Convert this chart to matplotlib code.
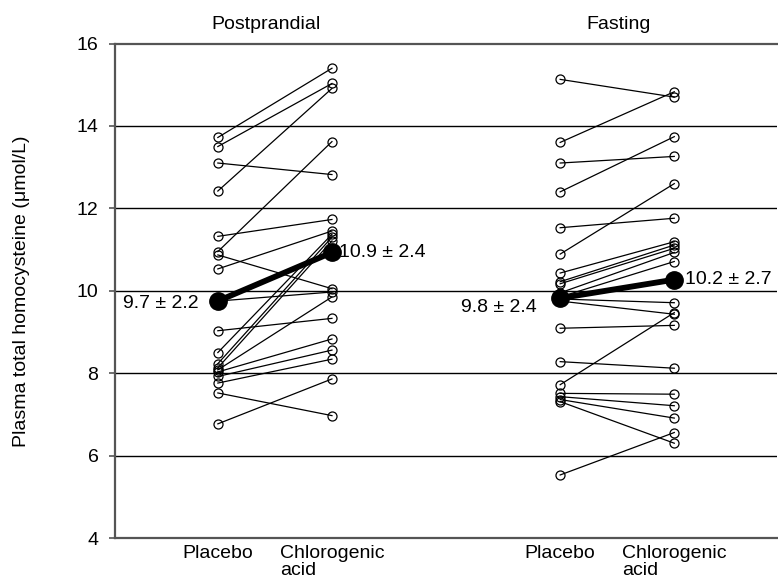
import matplotlib
matplotlib.use("Agg")
import matplotlib.pyplot as plt

plt.rcParams['font.family'] = ['Liberation Sans', 'DejaVu Sans']

# ---- data ----
x_positions = [1, 2, 4, 5]
x_labels = ["Placebo", "Chlorogenic\nacid", "Placebo", "Chlorogenic\nacid"]
group_names = ["Postprandial", "Fasting"]

pp_placebo = [13.72, 13.50, 12.42, 10.95, 13.10, 11.32, 10.53, 10.87, 9.75, 9.03,
              6.77, 7.52, 8.50, 8.23, 8.13, 8.08, 8.03, 7.92, 7.76]
pp_cga = [15.40, 15.03, 14.91, 13.62, 12.82, 11.73, 11.45, 10.05, 9.97, 9.33,
          7.86, 6.97, 11.37, 11.30, 11.21, 9.85, 8.83, 8.56, 8.34]

fa_placebo = [15.13, 13.60, 13.10, 12.40, 11.53, 10.89, 10.43, 10.22, 10.17, 9.95,
              9.85, 9.80, 9.75, 9.09, 8.28, 7.72, 7.51, 7.43, 7.36, 7.31, 5.53]
fa_cga = [14.70, 14.83, 13.26, 13.74, 11.76, 12.60, 11.19, 11.11, 11.03, 10.93,
          10.71, 9.71, 9.43, 9.16, 8.12, 9.47, 7.49, 7.21, 6.91, 6.30, 6.56]

pp_means = [9.75, 10.93]
fa_means = [9.82, 10.27]
pp_mean_labels = ["9.7 \u00b1 2.2", "10.9 \u00b1 2.4"]
fa_mean_labels = ["9.8 \u00b1 2.4", "10.2 \u00b1 2.7"]

# ---- figure ----
fig = plt.figure(figsize=(7.78, 5.78), dpi=100)
ax = fig.add_axes([0.148, 0.0692, 0.8507, 0.8555])

ax.set_xlim(0.1, 5.9)
ax.set_ylim(4, 16)

for y in [6, 8, 10, 12, 14]:
    ax.axhline(y, color='black', lw=1.0, zorder=1)

def draw_group(xa, xb, pla, cga, means):
    for p, c in zip(pla, cga):
        ax.plot([xa, xb], [p, c], color='black', lw=0.9, zorder=2)
    ax.plot([xa] * len(pla), pla, linestyle='none', marker='o', ms=6.5,
            mfc='none', mec='black', mew=0.9, zorder=3)
    ax.plot([xb] * len(cga), cga, linestyle='none', marker='o', ms=6.5,
            mfc='none', mec='black', mew=0.9, zorder=3)
    ax.plot([xa, xb], means, color='black', lw=4.2, marker='o', ms=12.5, zorder=4)

draw_group(x_positions[0], x_positions[1], pp_placebo, pp_cga, pp_means)
draw_group(x_positions[2], x_positions[3], fa_placebo, fa_cga, fa_means)

fs = 14
ax.annotate(pp_mean_labels[0], (x_positions[0], pp_means[0]), xytext=(-14, -2),
            textcoords='offset points', ha='right', va='center', fontsize=fs)
ax.annotate(pp_mean_labels[1], (x_positions[1], pp_means[1]), xytext=(5, 0),
            textcoords='offset points', ha='left', va='center', fontsize=fs)
ax.annotate(fa_mean_labels[0], (x_positions[2], fa_means[0]), xytext=(-17, -7),
            textcoords='offset points', ha='right', va='center', fontsize=fs)
ax.annotate(fa_mean_labels[1], (x_positions[3], fa_means[1]), xytext=(8, 0),
            textcoords='offset points', ha='left', va='center', fontsize=fs)

ax.text(1.42, 16.45, group_names[0], ha='center', va='center', fontsize=fs, clip_on=False)
ax.text(4.51, 16.45, group_names[1], ha='center', va='center', fontsize=fs, clip_on=False)

ax.set_yticks([4, 6, 8, 10, 12, 14, 16])
ax.set_xticks(x_positions)
ax.set_xticklabels(x_labels, fontsize=fs, va='top', linespacing=1.0)
for lab in ax.get_xticklabels():
    lab.set_multialignment('left')
ax.tick_params(axis='x', length=0, pad=5)
ax.tick_params(axis='y', length=4, width=1.2, color='#555555', pad=8, labelsize=fs)

for s in ['left', 'bottom', 'top']:
    ax.spines[s].set_color('#555555')
    ax.spines[s].set_linewidth(1.6)
ax.spines['right'].set_visible(False)

ax.set_ylabel("Plasma total homocysteine (\u03bcmol/L)", fontsize=fs)
ax.yaxis.set_label_coords(-0.128, 0.5)

fig.savefig("out.png", dpi=100)
